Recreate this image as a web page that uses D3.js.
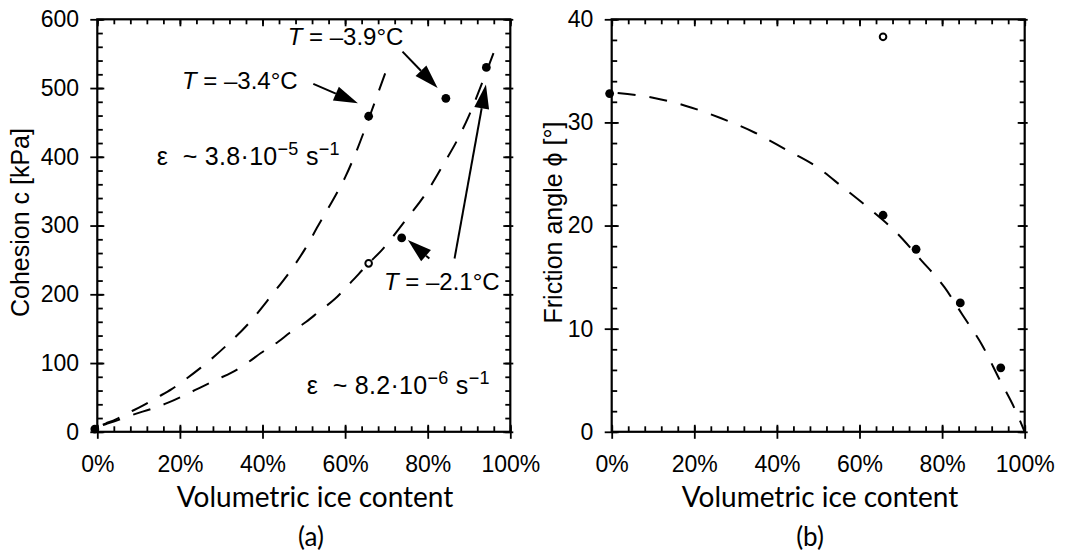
<!DOCTYPE html>
<html><head><meta charset="utf-8">
<script src="https://cdn.jsdelivr.net/npm/d3@7"></script>
<style>
html,body{margin:0;padding:0;background:#fff;}
svg{display:block;}
.tick text{font-family:"Liberation Sans",Arial,sans-serif;font-size:23px;fill:#000;}
.ann{font-family:"Liberation Sans",Arial,sans-serif;font-size:24px;fill:#000;white-space:pre;}
.rate{font-family:"Liberation Sans",Arial,sans-serif;font-size:25px;fill:#000;white-space:pre;letter-spacing:0.3px;}
.ytitle{font-family:"Liberation Sans",Arial,sans-serif;font-size:25px;fill:#000;}
.xtitle{font-family:Lato,"Open Sans",sans-serif;font-size:28px;fill:#000;}
.plabel{font-family:Lato,"Open Sans",sans-serif;font-size:26px;fill:#000;}
</style></head><body>
<svg id="chart" width="1076" height="553"></svg>
<script>
// ---------- data ----------
const xTicks = [0, 0.2, 0.4, 0.6, 0.8, 1.0];
const cohesionTicks = [0, 100, 200, 300, 400, 500, 600];
const frictionTicks = [0, 10, 20, 30, 40];

// (a) cohesion measurements
const cohIce = [-0.006, 0.657, 0.737, 0.844, 0.942];
const cohVal = [4, 459, 282, 485, 530];
const cohOpenIce = [0.657];
const cohOpenVal = [245];

// (a) fitted curve, strain rate ~3.8e-5 1/s
const fitFastIce = [0, 0.02, 0.045, 0.07, 0.11, 0.145, 0.18, 0.215, 0.25, 0.31, 0.37, 0.42, 0.47, 0.502, 0.535, 0.575, 0.60, 0.63, 0.657, 0.683, 0.707];
const fitFastVal = [7, 12, 18, 26, 38, 50, 62, 77, 93, 124, 160, 197, 236, 265, 300, 342, 370, 412, 455, 498, 538];
// (a) fitted curve, strain rate ~8.2e-6 1/s
const fitSlowIce = [0, 0.02, 0.05, 0.087, 0.134, 0.17, 0.214, 0.248, 0.289, 0.325, 0.365, 0.397, 0.438, 0.466, 0.506, 0.537, 0.575, 0.615, 0.657, 0.69, 0.744, 0.796, 0.84, 0.873, 0.90, 0.943, 0.97];
const fitSlowVal = [7, 11, 17, 25, 34, 42, 54, 64, 76, 86, 101, 115, 131, 144, 160, 175, 193, 218, 245, 265, 306, 347, 391, 426, 460, 525, 568];

// (b) friction angle measurements
const friIce = [-0.005, 0.657, 0.737, 0.844, 0.942];
const friVal = [32.8, 21.0, 17.7, 12.5, 6.2];
const friOpenIce = [0.657];
const friOpenVal = [38.3];
const friFitIce = [0, 0.10, 0.18, 0.265, 0.347, 0.42, 0.496, 0.56, 0.628, 0.69, 0.748, 0.806, 0.85, 0.897, 0.94, 0.975, 1.0];
const friFitVal = [32.9, 32.4, 31.6, 30.4, 29.0, 27.4, 25.7, 23.7, 21.5, 19.3, 16.7, 14.0, 11.3, 8.4, 5.0, 2.3, 0];

// annotations (data coordinates of panel a)
const tempLabels = [
  {text: "3.4", x: 0.205, y: 499},
  {text: "3.9", x: 0.461, y: 563},
  {text: "2.1", x: 0.694, y: 206}
];
const arrows = [
  {x1: 0.523, y1: 506, x2: 0.631, y2: 478},
  {x1: 0.739, y1: 553, x2: 0.824, y2: 500},
  {x1: 0.804, y1: 252, x2: 0.752, y2: 279},
  {x1: 0.865, y1: 252, x2: 0.941, y2: 505}
];
const rateLabels = [
  {mant: "3.8", exp: "5", x: 0.144, y: 388},
  {mant: "8.2", exp: "6", x: 0.507, y: 55}
];

// ---------- layout ----------
const svg = d3.select("#chart");
const W = 413, H = 412.5, topY = 19.3;
const panels = [
  {left: 97.3, yMax: 600, yMin: 20, yTicks: cohesionTicks, label: "(a)", title: "Cohesion c [kPa]", titleX: 29, xTitleC: 315, labelC: 311},
  {left: 611.7, yMax: 40, yMin: 2, yTicks: frictionTicks, label: "(b)", title: "Friction angle \u03D5 [°]", titleX: 562, xTitleC: 820, labelC: 810}
];

function drawFrame(g, x, y, yMinorStep, yMax, yTicksArr) {
  const xMinor = d3.range(0, 1.0001, 0.04);
  const yMinor = d3.range(0, yMax + 0.001, yMinorStep);
  const fmt = d3.format(".0%");
  // bottom: major ticks cross, minor inward
  g.append("g").attr("transform", `translate(0,${H})`)
    .call(d3.axisBottom(x).tickValues(xTicks).tickSize(7).tickPadding(16.7).tickFormat(fmt));
  g.append("g").attr("transform", `translate(0,${H})`)
    .call(d3.axisTop(x).tickValues(xTicks).tickSize(7).tickFormat(""));
  g.append("g").attr("transform", `translate(0,${H})`)
    .call(d3.axisTop(x).tickValues(xMinor).tickSize(5.5).tickFormat(""));
  // top: inward
  g.append("g").call(d3.axisBottom(x).tickValues(xTicks).tickSize(7).tickFormat(""));
  g.append("g").call(d3.axisBottom(x).tickValues(xMinor).tickSize(5).tickFormat(""));
  // left: major ticks cross, minor inward
  g.append("g").call(d3.axisLeft(y).tickValues(yTicksArr).tickSize(7).tickPadding(11.3));
  g.append("g").call(d3.axisRight(y).tickValues(yTicksArr).tickSize(7).tickFormat(""));
  g.append("g").call(d3.axisRight(y).tickValues(yMinor).tickSize(5.5).tickFormat(""));
  // right
  g.append("g").attr("transform", `translate(${W},0)`)
    .call(d3.axisRight(y).tickValues(yTicksArr).tickSize(3).tickFormat(""));
  g.append("g").attr("transform", `translate(${W},0)`)
    .call(d3.axisLeft(y).tickValues(yTicksArr).tickSize(7).tickFormat(""));
  g.append("g").attr("transform", `translate(${W},0)`)
    .call(d3.axisLeft(y).tickValues(yMinor).tickSize(5).tickFormat(""));
  g.selectAll(".domain").remove();
  g.selectAll(".tick line").attr("stroke", "#000").attr("stroke-width", 1.8);
  g.append("rect").attr("width", W).attr("height", H)
    .attr("fill", "none").attr("stroke", "#000").attr("stroke-width", 2.2);
}

function dashed(g, x, y, xs, ys) {
  const pts = xs.map((d, i) => [d, ys[i]]);
  g.append("path").datum(pts)
    .attr("d", d3.line().x(d => x(d[0])).y(d => y(d[1])).curve(d3.curveMonotoneX))
    .attr("fill", "none").attr("stroke", "#000").attr("stroke-width", 2)
    .attr("stroke-dasharray", "18,14").attr("stroke-dashoffset", -6);
}

function dots(g, x, y, xs, ys, open) {
  g.selectAll(null).data(xs.map((d, i) => [d, ys[i]])).enter().append("circle")
    .attr("cx", d => x(d[0])).attr("cy", d => y(d[1]))
    .attr("r", open ? 3.3 : 4.4)
    .attr("fill", open ? "#fff" : "#000")
    .attr("stroke", "#000").attr("stroke-width", open ? 2 : 0);
}

panels.forEach((p, idx) => {
  const g = svg.append("g").attr("transform", `translate(${p.left},${topY})`);
  const x = d3.scaleLinear().domain([0, 1]).range([0, W]);
  const y = d3.scaleLinear().domain([0, p.yMax]).range([H, 0]);
  drawFrame(g, x, y, p.yMin, p.yMax, p.yTicks);

  if (idx === 0) {
    dashed(g, x, y, fitFastIce, fitFastVal);
    dashed(g, x, y, fitSlowIce, fitSlowVal);
    dots(g, x, y, cohIce, cohVal, false);
    dots(g, x, y, cohOpenIce, cohOpenVal, true);

    tempLabels.forEach(t => {
      const tx = g.append("text").attr("class", "ann").attr("x", x(t.x)).attr("y", y(t.y));
      tx.append("tspan").attr("font-style", "italic").text("T");
      tx.append("tspan").text(" = \u2013" + t.text + "°C");
    });
    rateLabels.forEach(r => {
      const tx = g.append("text").attr("class", "rate").attr("x", x(r.x)).attr("y", y(r.y));
      tx.append("tspan").text("\u03B5  ~ " + r.mant + "·10");
      tx.append("tspan").attr("dy", -10).attr("font-size", 18).text("\u2212" + r.exp);
      tx.append("tspan").attr("dy", 10).text(" s");
      tx.append("tspan").attr("dy", -10).attr("font-size", 18).text("\u2212" + "1");
    });
    arrows.forEach(a => {
      const X1 = x(a.x1), Y1 = y(a.y1), X2 = x(a.x2), Y2 = y(a.y2);
      const dx = X2 - X1, dy = Y2 - Y1, L = Math.hypot(dx, dy);
      const ux = dx / L, uy = dy / L, hl = 24, hw = 7.5;
      const bx = X2 - ux * hl, by = Y2 - uy * hl;
      g.append("line").attr("x1", X1).attr("y1", Y1).attr("x2", bx).attr("y2", by)
        .attr("stroke", "#000").attr("stroke-width", 2);
      g.append("path").attr("d", `M${X2},${Y2}L${bx - uy * hw},${by + ux * hw}L${bx + uy * hw},${by - ux * hw}Z`)
        .attr("fill", "#000");
    });
  } else {
    dashed(g, x, y, friFitIce, friFitVal);
    dots(g, x, y, friIce, friVal, false);
    dots(g, x, y, friOpenIce, friOpenVal, true);
  }

  svg.append("text").attr("class", "xtitle").attr("text-anchor", "middle")
    .attr("x", p.xTitleC).attr("y", 507).text("Volumetric ice content");
  svg.append("text").attr("class", "plabel").attr("text-anchor", "middle")
    .attr("x", p.labelC).attr("y", 546).text(p.label);
  svg.append("text").attr("class", "ytitle").attr("text-anchor", "middle")
    .attr("transform", `translate(${p.titleX},${topY + H / 2 - 3}) rotate(-90)`).text(p.title);
});
</script>
</body></html>
